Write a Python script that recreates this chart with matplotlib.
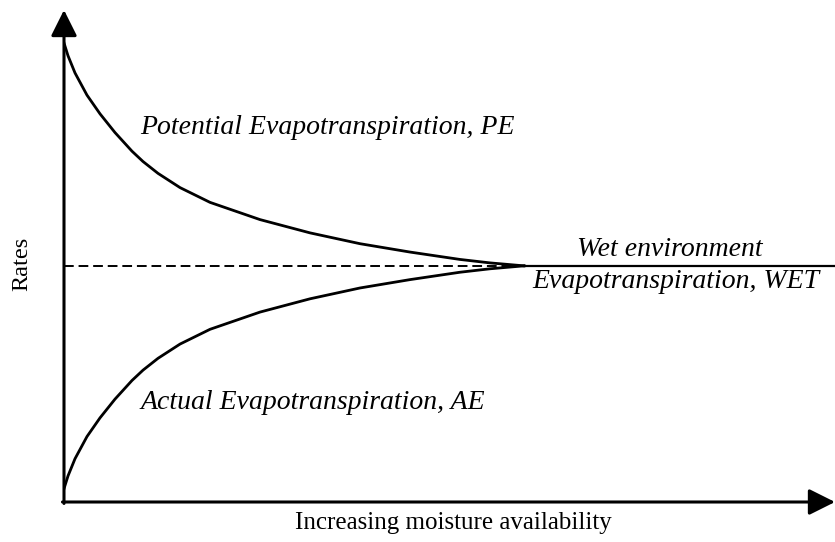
import matplotlib.pyplot as plt

# values (moisture 0-100, rate 0-100)
moisture = [0, 0.52, 1.43, 2.98, 4.67, 6.61, 8.82, 10.25, 12.19, 15.05,
            18.94, 25.42, 31.91, 38.39, 44.88, 51.36, 55.25, 59.66]
pe_rate = [93.3, 90.7, 87.2, 82.7, 78.9, 75.1, 71.3, 69.2, 66.8, 63.9,
           60.9, 57.4, 54.7, 52.5, 50.8, 49.3, 48.6, 48.0]
ae_rate = [2.7, 5.3, 8.8, 13.3, 17.1, 20.9, 24.7, 26.8, 29.2, 32.1,
           35.1, 38.6, 41.3, 43.5, 45.2, 46.7, 47.4, 48.0]
wet_level = 48.0
meet_x = moisture[-1]

plt.rcParams['font.family'] = ['Liberation Serif', 'DejaVu Serif']

fig = plt.figure(figsize=(8.35, 5.42), dpi=100)
ax = fig.add_axes([64 / 835, 40 / 542, 771 / 835, 492 / 542])
ax.set_xlim(0, 100)
ax.set_ylim(0, 100)
ax.axis('off')

# curves
ax.plot(moisture, pe_rate, color='black', lw=2.0, solid_joinstyle='round')
ax.plot(moisture, ae_rate, color='black', lw=2.0, solid_joinstyle='round')
ax.plot([0, meet_x], [wet_level, wet_level], color='black', lw=1.4,
        dashes=(5, 2.5))
ax.plot([meet_x, 100], [wet_level, wet_level], color='black', lw=1.6)

# axes with arrow heads
head = '-|>,head_length=1.6,head_width=0.8'
ax.annotate('', xy=(100, 0), xytext=(-0.2, 0), annotation_clip=False,
            arrowprops=dict(arrowstyle=head, lw=2.2, color='black',
                            shrinkA=0, shrinkB=0))
ax.annotate('', xy=(0, 100), xytext=(0, -0.3), annotation_clip=False,
            arrowprops=dict(arrowstyle=head, lw=2.2, color='black',
                            shrinkA=0, shrinkB=0))

# labels
lab = dict(style='italic', fontsize=20, va='baseline')
ax.text(9.9, 74.8, 'Potential Evapotranspiration, PE', ha='left', **lab)
ax.text(9.9, 18.9, 'Actual Evapotranspiration, AE', ha='left', **lab)
ax.text(78.6, 50.0, 'Wet environment', ha='center', **lab)
ax.text(79.4, 43.5, 'Evapotranspiration, WET', ha='center', **lab)

fig.text(453 / 835, 1 - 523 / 542, 'Increasing moisture availability',
         fontsize=18, ha='center', va='center')
fig.text(22 / 835, 1 - 264 / 542, 'Rates', fontsize=17.5, rotation=90,
         ha='center', va='center')

fig.savefig('out.png', dpi=100)
